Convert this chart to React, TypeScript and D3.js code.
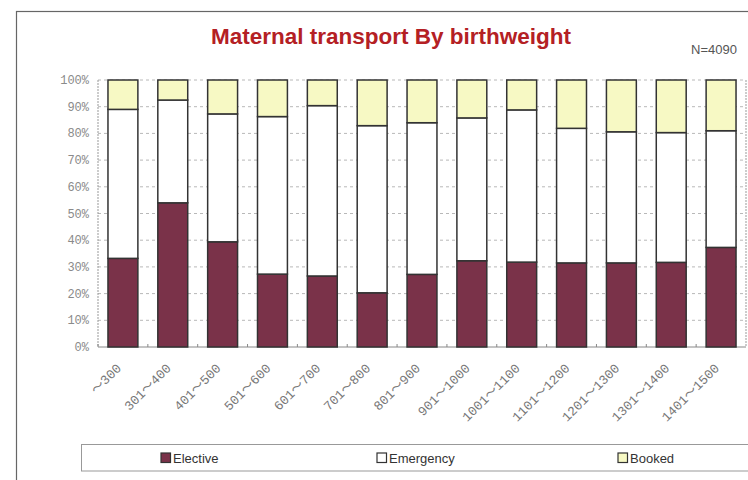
import React from "react";
import * as d3 from "d3";

const categories = ["〜300", "301〜400", "401〜500", "501〜600", "601〜700", "701〜800", "801〜900", "901〜1000", "1001〜1100", "1101〜1200", "1201〜1300", "1301〜1400", "1401〜1500"];
const elective = [33.2, 54.0, 39.4, 27.3, 26.6, 20.3, 27.2, 32.3, 31.8, 31.5, 31.5, 31.7, 37.3];
const emergency = [55.8, 38.5, 47.9, 59.0, 63.8, 62.6, 56.8, 53.5, 57.0, 50.4, 49.1, 48.6, 43.7];
const booked = [11.0, 7.5, 12.7, 13.7, 9.6, 17.1, 16.0, 14.2, 11.2, 18.1, 19.4, 19.7, 19.0];
const seriesNames = ["Elective", "Emergency", "Booked"];
const seriesColors = ["#7a3249", "#ffffff", "#f7f9c4"];
const yTicks = [0, 10, 20, 30, 40, 50, 60, 70, 80, 90, 100];

const W = 748, H = 480;
const plot = { left: 98, right: 746, top: 80, bottom: 347 };

export default function App() {
  const x = d3.scaleBand<string>().domain(categories).range([plot.left, plot.right]).paddingInner(0.4).paddingOuter(0.2);
  const y = d3.scaleLinear().domain([0, 100]).range([plot.bottom, plot.top]);
  const rows = categories.map((c, i) => ({ cat: c, Elective: elective[i], Emergency: emergency[i], Booked: booked[i] }));
  const stacked = d3.stack<any>().keys(seriesNames)(rows);
  const mono = "'Liberation Mono', 'DejaVu Sans Mono', monospace";
  const cjk = "'Noto Sans CJK JP', 'Noto Sans CJK SC', sans-serif";
  const sans = "'Liberation Sans', Arial, sans-serif";
  const legendX = [161, 377, 618];

  return (
    <svg width={W} height={H} style={{ position: "absolute", left: 0, top: 0, background: "#fff" }}>
      <rect x={16.5} y={11.5} width={800} height={520} fill="#fff" stroke="#666" strokeWidth={1.2} />
      <text x={391} y={44} textAnchor="middle" fontFamily={sans} fontWeight="bold" fontSize={22.5} fill="#b42024">
        Maternal transport By birthweight
      </text>
      <text x={737} y={54} textAnchor="end" fontFamily={sans} fontSize={13} fill="#555">N=4090</text>

      {yTicks.map((t) => (
        <g key={t}>
          {t > 0 && (
            <line x1={plot.left} x2={plot.right} y1={y(t)} y2={y(t)} stroke="#b8b8b8" strokeDasharray="3,3" strokeWidth={1} />
          )}
          <text x={89} y={y(t) + 4} textAnchor="end" fontFamily={mono} fontSize={12} fill="#8a8a8a">{t}%</text>
        </g>
      ))}
      <line x1={plot.left} x2={plot.left} y1={plot.top} y2={plot.bottom} stroke="#999" strokeDasharray="2,1" strokeWidth={1} />
      <line x1={plot.right} x2={plot.right} y1={plot.top} y2={plot.bottom} stroke="#999" strokeDasharray="2,1" strokeWidth={1} />
      <line x1={plot.left} x2={plot.right} y1={plot.bottom} y2={plot.bottom} stroke="#888" strokeWidth={1} />
      {categories.map((c) => (
        <line key={"tk" + c} x1={(x(c) as number) - x.step() * 0.2} x2={(x(c) as number) - x.step() * 0.2} y1={plot.bottom} y2={plot.bottom - 3} stroke="#888" />
      ))}

      {stacked.map((s, si) => (
        <g key={s.key}>
          {s.map((d, i) => (
            <rect
              key={i}
              x={x(categories[i])}
              width={x.bandwidth()}
              y={y(d[1])}
              height={y(d[0]) - y(d[1])}
              fill={seriesColors[si]}
              stroke="#333"
              strokeWidth={1.5}
            />
          ))}
        </g>
      ))}

      {categories.map((c) => {
        const cx = (x(c) as number) + x.bandwidth() / 2 - 1;
        const cy = 369;
        const parts = c.split("〜");
        return (
          <text key={"xl" + c} x={cx} y={cy} textAnchor="end" fontFamily={mono} fontSize={13} fill="#777" transform={`rotate(-45 ${cx} ${cy})`}>
            <tspan>{parts[0]}</tspan>
            <tspan fontFamily={cjk} fontSize={13}>〜</tspan>
            <tspan>{parts[1]}</tspan>
          </text>
        );
      })}

      <rect x={81.5} y={444.5} width={700} height={26.5} fill="#fff" stroke="#999" strokeWidth={1} />
      {seriesNames.map((n, i) => (
        <g key={n}>
          <rect x={legendX[i]} y={453} width={9.5} height={9.5} fill={seriesColors[i]} stroke="#333" strokeWidth={1.2} />
          <text x={legendX[i] + 12} y={463} fontFamily={sans} fontSize={13} fill="#333">{n}</text>
        </g>
      ))}
    </svg>
  );
}
